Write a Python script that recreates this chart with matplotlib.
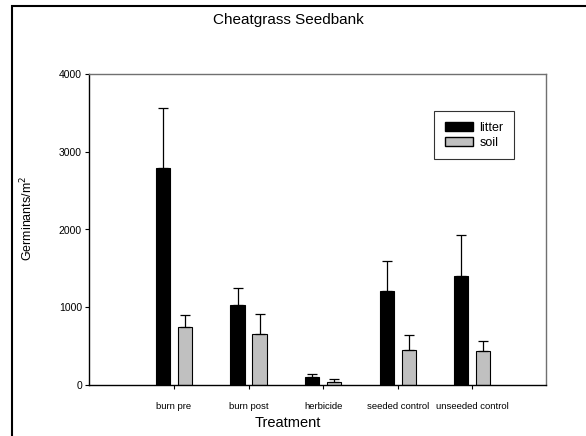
import matplotlib
matplotlib.use("Agg")
import matplotlib.pyplot as plt
import numpy as np
from matplotlib.patches import Rectangle, Patch

plt.rcParams['font.family'] = ['Liberation Sans', 'DejaVu Sans']

categories = ["burn pre", "burn post", "herbicide", "seeded control", "unseeded control"]
litter = [2795, 1033, 99, 1213, 1406]
litter_err = [764, 211, 38, 382, 523]
soil = [742, 656, 43, 450, 433]
soil_err = [158, 257, 30, 197, 137]
yticks = [0, 1000, 2000, 3000, 4000]

fig = plt.figure(figsize=(5.86, 4.36), dpi=100)
# outer frame
fig.patches.append(Rectangle((12/586, -0.1), 1.2, 1 - 6/436 + 0.1, transform=fig.transFigure,
                             fill=False, edgecolor='black', linewidth=1.5))

ax = fig.add_axes([89/586, 1 - 385/436, 457/586, 311/436])
x = np.arange(1, 6)
w = 0.19
off = 0.148
ax.bar(x - off, litter, w, color='black', edgecolor='black', linewidth=0.8,
       yerr=[np.zeros(5), litter_err], error_kw=dict(ecolor='black', elinewidth=0.9, capsize=3.5, capthick=0.9),
       label='litter')
ax.bar(x + off, soil, w, color='#c0c0c0', edgecolor='black', linewidth=0.8,
       yerr=[np.zeros(5), soil_err], error_kw=dict(ecolor='black', elinewidth=0.9, capsize=3.5, capthick=0.9),
       label='soil')

ax.set_xlim(-0.14, 5.99)
ax.set_ylim(0, 4000)
ax.set_yticks(yticks)
ax.set_yticklabels([str(v) for v in yticks], fontsize=7.5)
ax.set_xticks(x)
ax.set_xticklabels(categories, fontsize=6.8)
ax.tick_params(axis='both', direction='out', length=3, width=0.8, pad=2)
ax.tick_params(axis='x', pad=9)
for s in ['left', 'bottom']:
    ax.spines[s].set_color('black')
    ax.spines[s].set_linewidth(1.0)
for s in ['top', 'right']:
    ax.spines[s].set_color('#707070')
    ax.spines[s].set_linewidth(1.0)

ax.set_xlabel('Treatment', fontsize=10.5)
ax.xaxis.set_label_coords((288 - 89)/457, -(422.5 - 385)/311)
ax.xaxis.label.set_va('center')
ax.set_ylabel('Germinants/m$^2$', fontsize=9)
ax.yaxis.set_label_coords(-(89 - 27)/457, (385 - 218)/311)
ax.yaxis.label.set_va('center')

fig.text(288/586, 1 - 20/436, 'Cheatgrass Seedbank', ha='center', va='center', fontsize=11)

handles = [Patch(facecolor='black', edgecolor='black'), Patch(facecolor='#c0c0c0', edgecolor='black')]
leg = ax.legend(handles, ['litter', 'soil'], loc='upper left',
                bbox_to_anchor=((434 - 89)/457, (385 - 111)/311), fontsize=9,
                frameon=True, fancybox=False, edgecolor='black', handlelength=2.3,
                handleheight=0.72, borderpad=0.85, labelspacing=0.25, handletextpad=0.5,
                borderaxespad=0)
leg.get_frame().set_linewidth(0.8)

fig.savefig('out.png', dpi=100)
